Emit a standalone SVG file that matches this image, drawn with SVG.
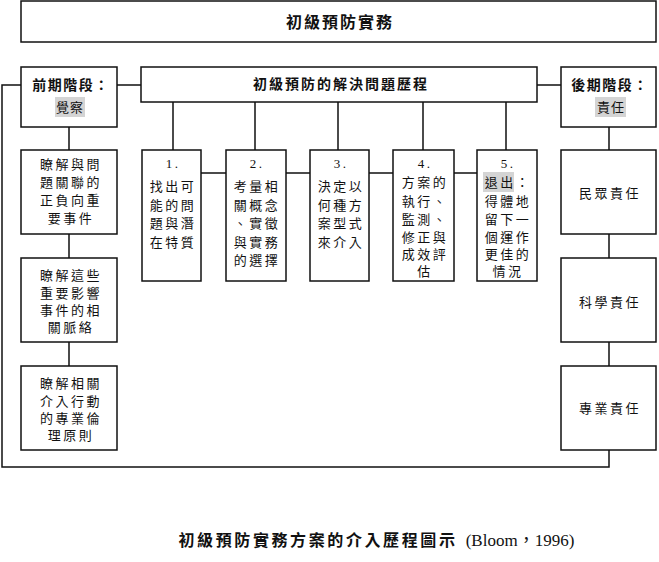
<svg xmlns="http://www.w3.org/2000/svg" width="659" height="562" viewBox="0 0 659 562">
<style>
.box{fill:#fff;stroke:#111;stroke-width:1.5}
.ln{fill:none;stroke:#111;stroke-width:1.5}
.hl{fill:#d4d4d4}
text{font-family:"Liberation Serif","Noto Sans CJK TC",serif;fill:#111;text-anchor:middle}
.t{font-size:13px;letter-spacing:2.5px}
.b{font-weight:bold}
</style>
<rect width="659" height="562" fill="#fff"/>
<g id="connectors">
<path class="ln" d="M21,85 H2 V467 H609 V450"/>
<path class="ln" d="M117,85 H141 M537,85 H561"/>
<path class="ln" d="M69,127 V150 M69,234 V258 M69,342 V366"/>
<path class="ln" d="M609,127 V150 M609,234 V258 M609,342 V366"/>
<path class="ln" d="M173,102 V150 M255,102 V150 M338,102 V150 M423,102 V150 M506,102 V150"/>
<path class="ln" d="M201,173 H226 M286,173 H310 M369,173 H393 M454,173 H477"/>
</g>
<g id="title">
<rect class="box" x="21" y="1" width="635" height="41"/>
<text x="340" y="28" class="b" style="font-size:16px;letter-spacing:2px">初級預防實務</text>
</g>
<g id="early">
<rect class="box" x="21" y="67" width="96" height="60"/>
<text x="71" y="90" class="b" style="font-size:14px;letter-spacing:1.5px">前期階段：</text>
<rect class="hl" x="55" y="97" width="30" height="20"/>
<text x="70" y="112" class="t" style="letter-spacing:1px">覺察</text>
</g>
<g id="process">
<rect class="box" x="141" y="67" width="396" height="35"/>
<text x="341" y="89" class="b" style="font-size:14px;letter-spacing:2px">初級預防的解決問題歷程</text>
</g>
<g id="late">
<rect class="box" x="561" y="67" width="95" height="60"/>
<text x="610" y="90" class="b" style="font-size:14px;letter-spacing:1.5px">後期階段：</text>
<rect class="hl" x="595" y="97" width="31" height="20"/>
<text x="611" y="112" class="t" style="letter-spacing:1px">責任</text>
</g>
<g id="left1">
<rect class="box" x="21" y="150" width="96" height="84"/>
<text class="t" x="71"><tspan x="71" y="169">瞭解與問</tspan><tspan x="71" y="187">題關聯的</tspan><tspan x="71" y="205">正負向重</tspan><tspan x="71" y="223">要事件</tspan></text>
</g>
<g id="left2">
<rect class="box" x="21" y="258" width="96" height="84"/>
<text class="t" x="71"><tspan x="71" y="280">瞭解這些</tspan><tspan x="71" y="298">重要影響</tspan><tspan x="71" y="315">事件的相</tspan><tspan x="71" y="332">關脈絡</tspan></text>
</g>
<g id="left3">
<rect class="box" x="21" y="366" width="96" height="84"/>
<text class="t" x="71"><tspan x="71" y="388">瞭解相關</tspan><tspan x="71" y="406">介入行動</tspan><tspan x="71" y="423">的專業倫</tspan><tspan x="71" y="440">理原則</tspan></text>
</g>
<g id="step1">
<rect class="box" x="142" y="150" width="59" height="131"/>
<text class="t" x="173"><tspan x="173" y="168">1.</tspan><tspan x="173" y="191">找出可</tspan><tspan x="173" y="210">能的問</tspan><tspan x="173" y="228">題與潛</tspan><tspan x="173" y="247">在特質</tspan></text>
</g>
<g id="step2">
<rect class="box" x="226" y="150" width="60" height="131"/>
<text class="t" x="257"><tspan x="257" y="168">2.</tspan><tspan x="257" y="191">考量相</tspan><tspan x="257" y="210">關概念</tspan><tspan x="257" y="228">、實徵</tspan><tspan x="257" y="247">與實務</tspan><tspan x="257" y="265">的選擇</tspan></text>
</g>
<g id="step3">
<rect class="box" x="310" y="150" width="59" height="131"/>
<text class="t" x="341"><tspan x="341" y="168">3.</tspan><tspan x="341" y="191">決定以</tspan><tspan x="341" y="210">何種方</tspan><tspan x="341" y="228">案型式</tspan><tspan x="341" y="247">來介入</tspan></text>
</g>
<g id="step4">
<rect class="box" x="393" y="150" width="61" height="131"/>
<text class="t" x="425"><tspan x="425" y="168">4.</tspan><tspan x="425" y="187">方案的</tspan><tspan x="425" y="206">執行、</tspan><tspan x="425" y="224">監測、</tspan><tspan x="425" y="242">修正與</tspan><tspan x="425" y="259">成效評</tspan><tspan x="425" y="276">估</tspan></text>
</g>
<g id="step5">
<rect class="box" x="477" y="150" width="60" height="131"/>
<rect class="hl" x="483" y="172" width="31" height="20"/>
<text class="t" x="508"><tspan x="508" y="168">5.</tspan><tspan x="508" y="187">退出：</tspan><tspan x="508" y="206">得體地</tspan><tspan x="508" y="224">留下一</tspan><tspan x="508" y="242">個運作</tspan><tspan x="508" y="259">更佳的</tspan><tspan x="508" y="276">情況</tspan></text>
</g>
<g id="right1">
<rect class="box" x="561" y="150" width="95" height="84"/>
<text class="t" x="610" y="198">民眾責任</text>
</g>
<g id="right2">
<rect class="box" x="561" y="258" width="95" height="84"/>
<text class="t" x="610" y="307">科學責任</text>
</g>
<g id="right3">
<rect class="box" x="561" y="366" width="95" height="84"/>
<text class="t" x="610" y="413">專業責任</text>
</g>
<g id="caption">
<text x="318" y="546" class="b" style="font-size:16px;letter-spacing:2.6px">初級預防實務方案的介入歷程圖示</text>
<text x="520" y="546" style="font-size:17px">(Bloom，1996)</text>
</g>
</svg>
